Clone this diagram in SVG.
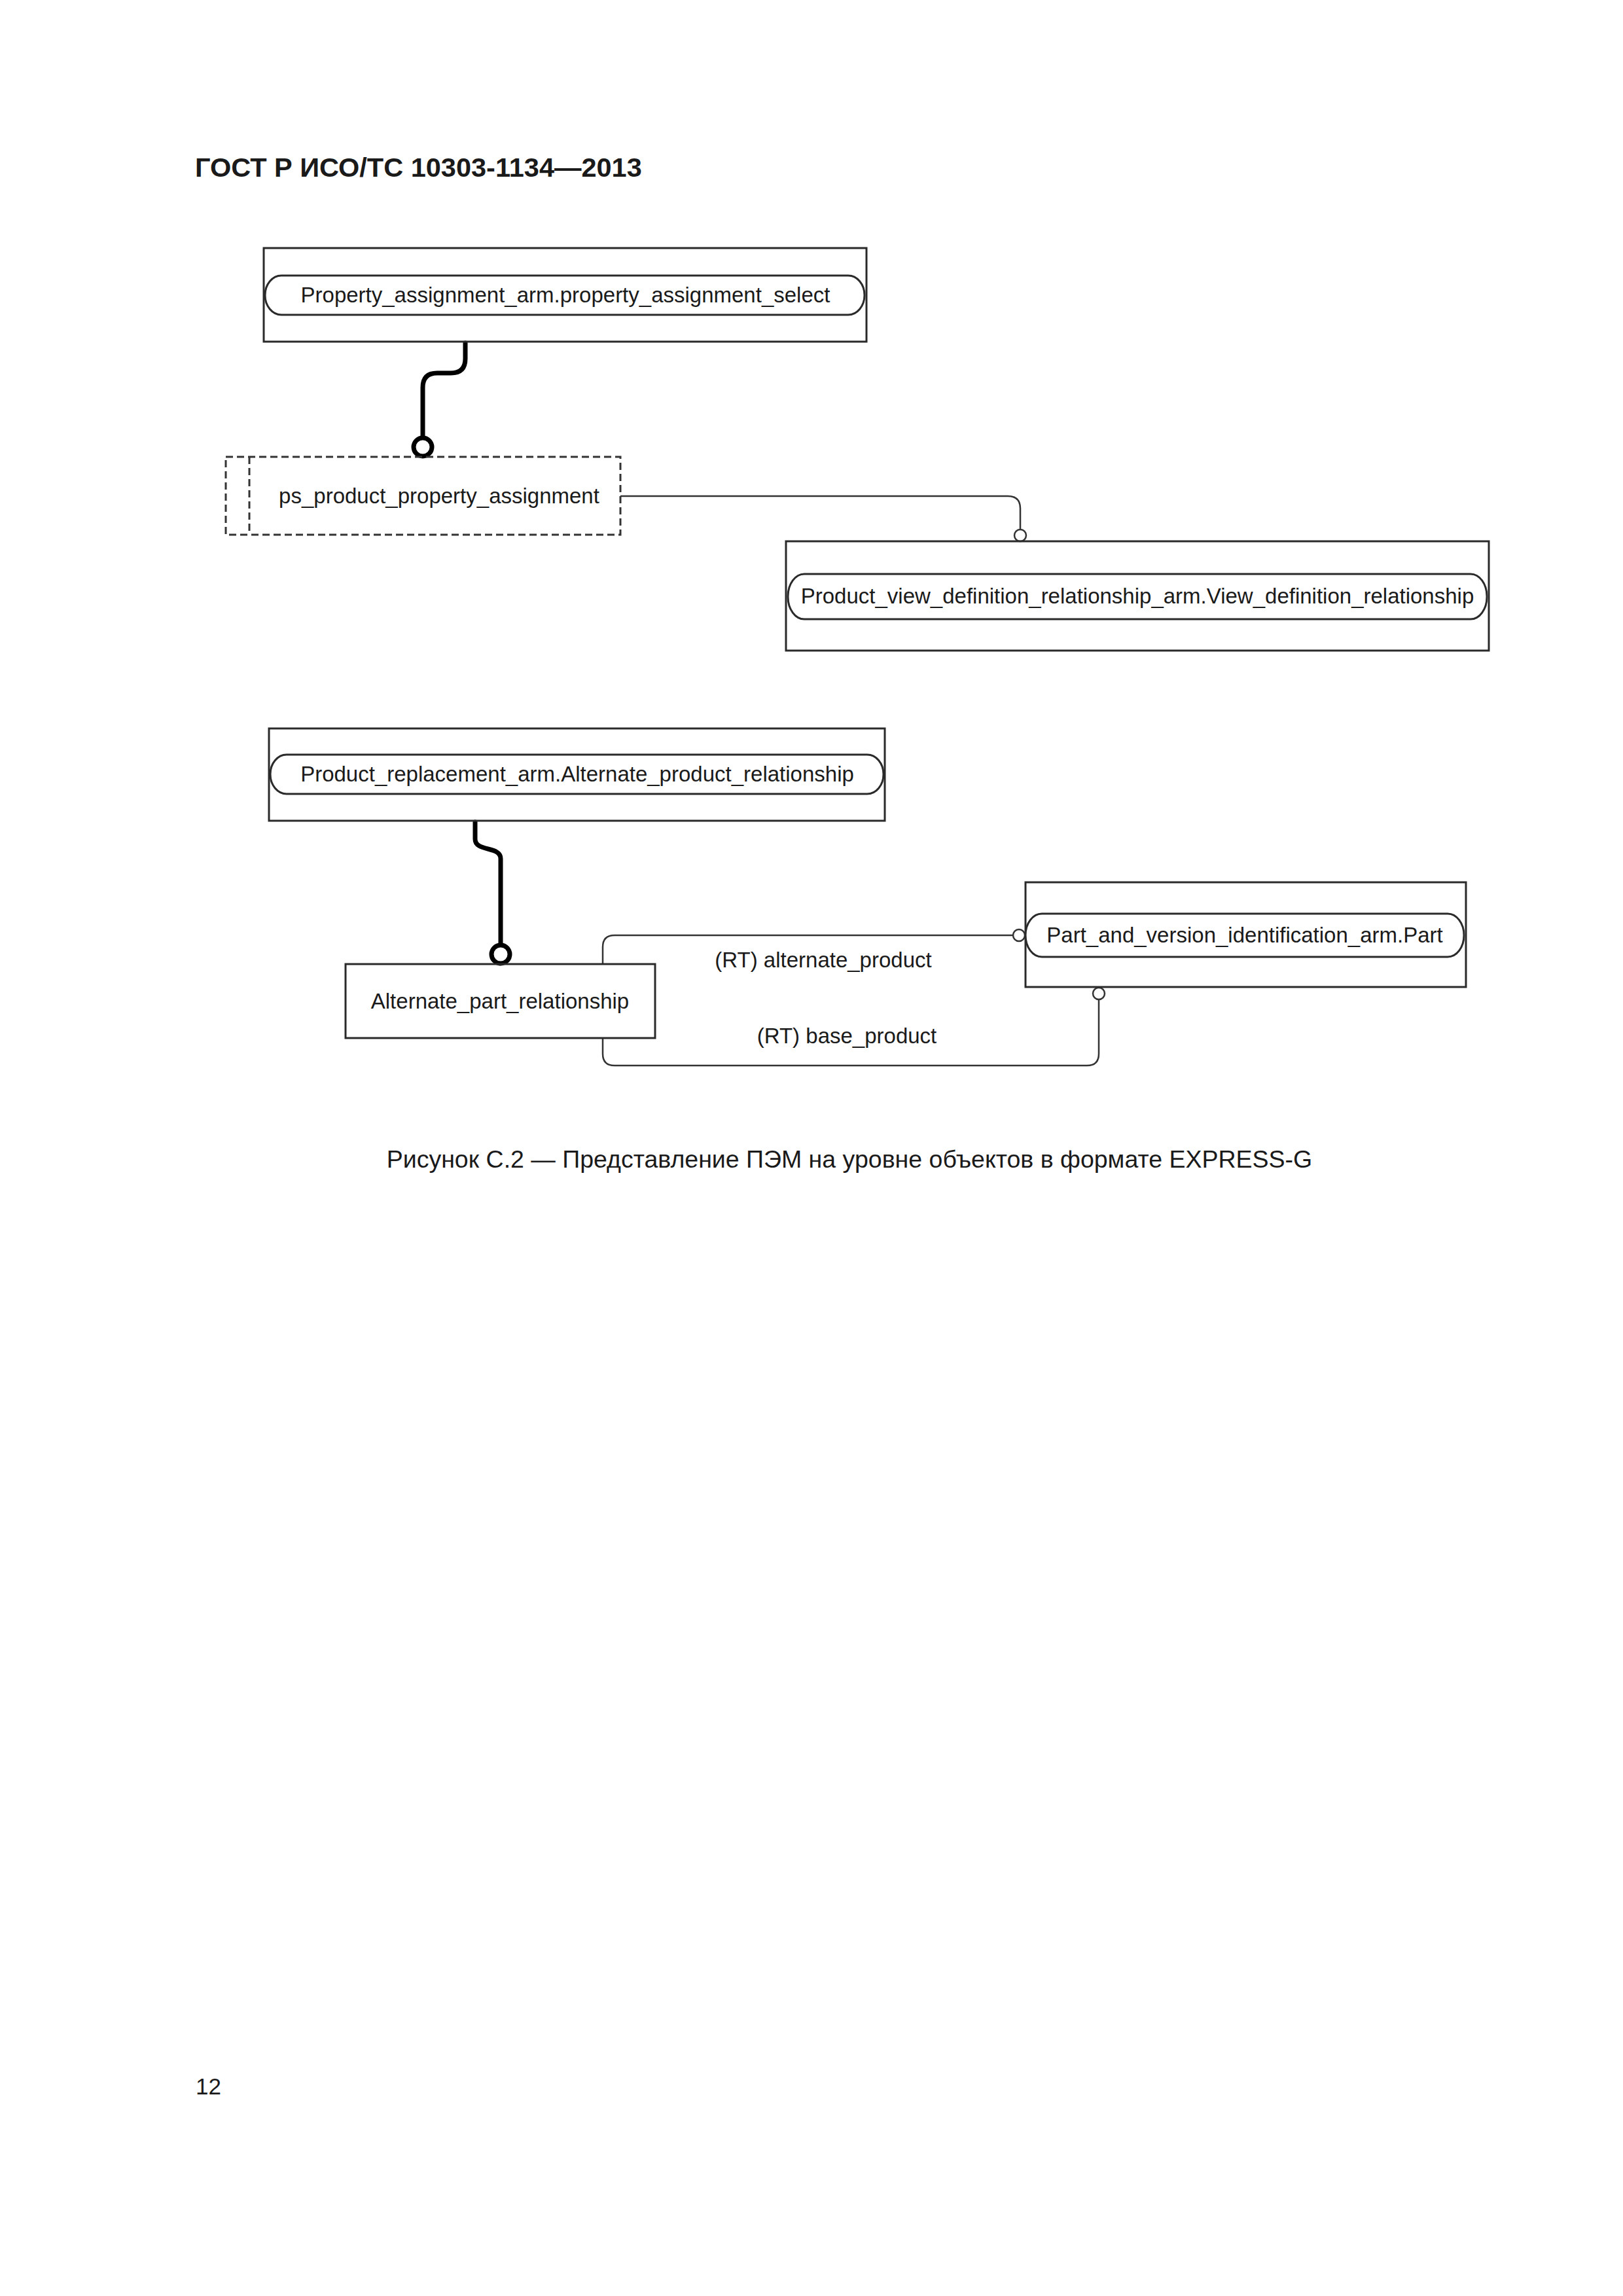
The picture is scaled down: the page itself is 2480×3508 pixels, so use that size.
<svg xmlns="http://www.w3.org/2000/svg" width="2480" height="3508" viewBox="0 0 2480 3508">
<style>
text{font-family:"Liberation Sans",Arial,sans-serif;fill:#1a1a1a}
.lbl{font-size:33px;text-anchor:middle}
.box{fill:none;stroke:#2a2a2a;stroke-width:3}
.pill{fill:#fff;stroke:#2a2a2a;stroke-width:3}
.thick{fill:none;stroke:#000;stroke-width:7;stroke-linecap:round}
.thin{fill:none;stroke:#333;stroke-width:2.5}
.dash{fill:none;stroke:#333;stroke-width:3;stroke-dasharray:11 6}
</style>
<rect x="0" y="0" width="2480" height="3508" fill="#fff"/>
<text x="298" y="270" font-size="41.5" font-weight="bold">ГОСТ Р ИСО/ТС 10303-1134—2013</text>

<g id="connectors">
<path class="thick" d="M711,524 L711,548 Q711,570 689,570 L668,570 Q646,570 646,592 L646,668"/>
<circle cx="646" cy="683" r="14" fill="#fff" stroke="#000" stroke-width="7"/>
<path class="thin" d="M948,758 L1540,758 Q1559,758 1559,777 L1559,808"/>
<circle cx="1559" cy="818" r="9" fill="#fff" stroke="#333" stroke-width="2.5"/>
<path class="thick" d="M726,1256 L726,1282 C726,1302 765,1292 765,1312 L765,1443"/>
<circle cx="765" cy="1458" r="14" fill="#fff" stroke="#000" stroke-width="7"/>
<path class="thin" d="M921,1473 L921,1447 Q921,1429 939,1429 L1548,1429"/>
<circle cx="1557" cy="1429" r="9" fill="#fff" stroke="#333" stroke-width="2.5"/>
<path class="thin" d="M921,1586 L921,1610 Q921,1628 939,1628 L1661,1628 Q1679,1628 1679,1610 L1679,1527"/>
<circle cx="1679" cy="1518" r="9" fill="#fff" stroke="#333" stroke-width="2.5"/>
<text class="lbl" x="1258" y="1478">(RT) alternate_product</text>
<text class="lbl" x="1294" y="1594">(RT) base_product</text>
</g>

<g id="property_assignment_select">
<rect class="box" x="403" y="379" width="921" height="143"/>
<rect class="pill" x="405" y="421" width="916" height="60" rx="25" ry="30"/>
<text class="lbl" x="864" y="462">Property_assignment_arm.property_assignment_select</text>
</g>

<g id="ps_product_property_assignment">
<rect class="dash" x="345" y="698" width="603" height="119"/>
<line class="dash" x1="381" y1="698" x2="381" y2="817" stroke="#666"/>
<text class="lbl" x="671" y="769">ps_product_property_assignment</text>
</g>

<g id="view_definition_relationship">
<rect class="box" x="1201" y="827" width="1074" height="167"/>
<rect class="pill" x="1204" y="877" width="1068" height="69" rx="25" ry="34"/>
<text class="lbl" x="1738" y="922">Product_view_definition_relationship_arm.View_definition_relationship</text>
</g>

<g id="alternate_product_relationship">
<rect class="box" x="411" y="1113" width="941" height="141"/>
<rect class="pill" x="413" y="1153" width="937" height="60" rx="25" ry="30"/>
<text class="lbl" x="882" y="1194">Product_replacement_arm.Alternate_product_relationship</text>
</g>

<g id="alternate_part_relationship">
<rect class="box" x="528" y="1473" width="473" height="113"/>
<text class="lbl" x="764" y="1541">Alternate_part_relationship</text>
</g>

<g id="part">
<rect class="box" x="1567" y="1348" width="673" height="160"/>
<rect class="pill" x="1567" y="1396" width="670" height="66" rx="25" ry="33"/>
<text class="lbl" x="1902" y="1440">Part_and_version_identification_arm.Part</text>
</g>

<text x="1298" y="1784" font-size="37.5" text-anchor="middle">Рисунок С.2 — Представление ПЭМ на уровне объектов в формате EXPRESS-G</text>
<text x="299" y="3200" font-size="35">12</text>
</svg>
